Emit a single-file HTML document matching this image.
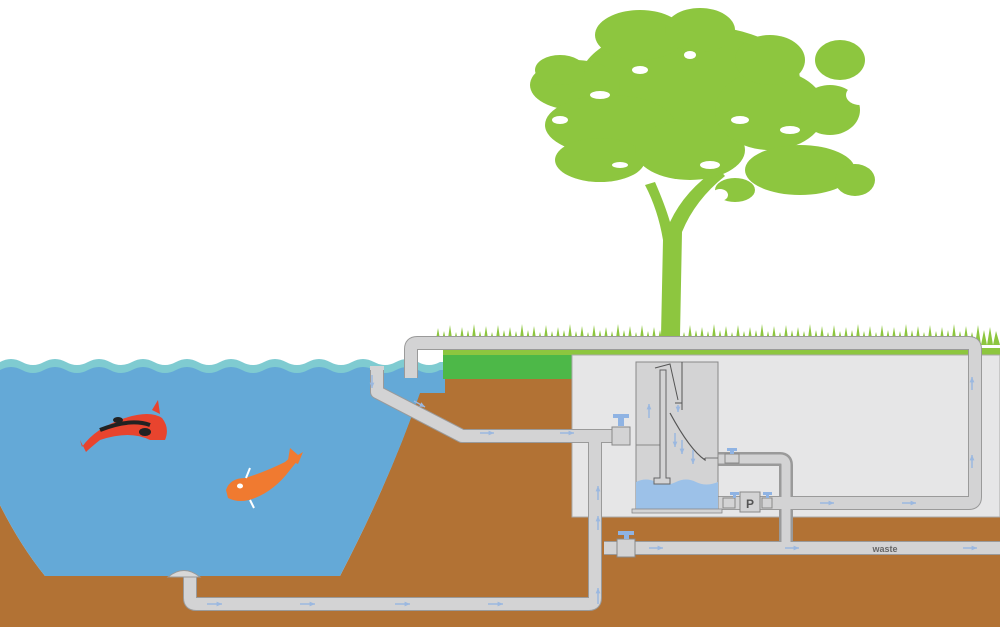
<!DOCTYPE html>
<html><head><meta charset="utf-8"><style>html,body{margin:0;padding:0;background:#fff}svg{display:block}</style></head>
<body>
<svg width="1000" height="627" viewBox="0 0 1000 627" xmlns="http://www.w3.org/2000/svg" font-family="Liberation Sans, sans-serif">
<defs>
<marker id="ar" viewBox="0 0 10 10" refX="9" refY="5" markerWidth="4" markerHeight="4" orient="auto"><path d="M0,1 L9,5 L0,9z" fill="#9bb8e0"/></marker>
</defs>
<rect width="1000" height="627" fill="#fff"/>
<!-- ground -->
<path d="M0,505 L0,627 L1000,627 L1000,355 L443,355 L443,392 L420,392 Q390,480 340,576 L45,576 Q20,545 0,505z" fill="#b27234"/>
<!-- water -->
<path d="M0,368 L445,368 L445,393 L420,393 Q390,480 340,576 L45,576 Q20,545 0,505z" fill="#64a9d7"/>
<path d="M0,362 q11,-6 22,0 t22,0 t22,0 t22,0 t22,0 t22,0 t22,0 t22,0 t22,0 t22,0 t22,0 t22,0 t22,0 t22,0 t22,0 t22,0 t22,0 t22,0 t22,0 t22,0 L445,362 L445,374 L0,374z" fill="#7fcbd1"/>
<path d="M0,370 q11,-6 22,0 t22,0 t22,0 t22,0 t22,0 t22,0 t22,0 t22,0 t22,0 t22,0 t22,0 t22,0 t22,0 t22,0 t22,0 t22,0 t22,0 t22,0 t22,0 t22,0 L445,370 L445,380 L0,380z" fill="#64a9d7"/>
<!-- green -->
<rect x="443" y="348" width="557" height="8" fill="#8dc63f"/>
<rect x="443" y="355" width="130" height="24" fill="#4db848"/>
<!-- room -->
<rect x="572" y="355" width="428" height="162" fill="#e6e6e7" stroke="#aaa" stroke-width="1"/>
<!-- grass -->
<g fill="#8dc63f">
<path d="M435,345 L438,328 L441,345 L444,331 L447,345 L450,325 L453,345 L456,332 L459,345 L462,327 L465,345 L468,330 L471,345 L474,324 L477,345 L480,331 L483,345 L486,326 L489,345 L492,332 L495,345 L498,325 L501,345 L504,330 L507,345 L510,327 L513,345 L516,331 L519,345 L522,324 L525,345 L528,330 L531,345 L534,326 L537,345 L540,332 L543,345 L546,325 L549,345 L552,331 L555,345 L558,327 L561,345 L564,330 L567,345 L570,324 L573,345 L576,331 L579,345 L582,326 L585,345 L588,332 L591,345 L594,325 L597,345 L600,330 L603,345 L606,327 L609,345 L612,331 L615,345 L618,324 L621,345 L624,330 L627,345 L630,326 L633,345 L636,332 L639,345 L642,325 L645,345 L648,331 L651,345 L654,327 L657,345 L660,330 L663,345 L666,324 L669,345 L672,331 L675,345 L678,326 L681,345 L684,332 L687,345 L690,325 L693,345 L696,330 L699,345 L702,327 L705,345 L708,331 L711,345 L714,324 L717,345 L720,330 L723,345 L726,326 L729,345 L732,332 L735,345 L738,325 L741,345 L744,331 L747,345 L750,327 L753,345 L756,330 L759,345 L762,324 L765,345 L768,331 L771,345 L774,326 L777,345 L780,332 L783,345 L786,325 L789,345 L792,330 L795,345 L798,327 L801,345 L804,331 L807,345 L810,324 L813,345 L816,330 L819,345 L822,326 L825,345 L828,332 L831,345 L834,325 L837,345 L840,331 L843,345 L846,327 L849,345 L852,330 L855,345 L858,324 L861,345 L864,331 L867,345 L870,326 L873,345 L876,332 L879,345 L882,325 L885,345 L888,330 L891,345 L894,327 L897,345 L900,331 L903,345 L906,324 L909,345 L912,330 L915,345 L918,326 L921,345 L924,332 L927,345 L930,325 L933,345 L936,331 L939,345 L942,327 L945,345 L948,330 L951,345 L954,324 L957,345 L960,331 L963,345 L966,326 L969,345 L972,332 L975,345 L978,325 L981,345 L984,330 L987,345 L990,327 L993,345 L996,331 L1000,345z"/>
</g>
<!-- tree -->
<g fill="#8dc63f">
<path d="M661,336 L663,240 Q658,210 645,185 L655,182 Q665,205 670,222 Q685,190 718,168 L725,176 Q695,200 682,232 L680,336z"/>
<ellipse cx="690" cy="80" rx="110" ry="55"/>
<ellipse cx="640" cy="35" rx="45" ry="25"/>
<ellipse cx="700" cy="30" rx="35" ry="22"/>
<ellipse cx="575" cy="85" rx="45" ry="25"/>
<ellipse cx="560" cy="70" rx="25" ry="15"/>
<ellipse cx="610" cy="125" rx="65" ry="30"/>
<ellipse cx="600" cy="160" rx="45" ry="22"/>
<ellipse cx="690" cy="150" rx="55" ry="30"/>
<ellipse cx="770" cy="110" rx="55" ry="40"/>
<ellipse cx="800" cy="170" rx="55" ry="25"/>
<ellipse cx="840" cy="60" rx="25" ry="20"/>
<ellipse cx="830" cy="110" rx="30" ry="25"/>
<ellipse cx="855" cy="180" rx="20" ry="16"/>
<ellipse cx="735" cy="190" rx="20" ry="12"/>
<ellipse cx="770" cy="60" rx="35" ry="25"/>
</g>
<g fill="#fff">
<ellipse cx="640" cy="70" rx="8" ry="4"/><ellipse cx="600" cy="95" rx="10" ry="4"/>
<ellipse cx="740" cy="120" rx="9" ry="4"/><ellipse cx="620" cy="165" rx="8" ry="3"/>
<ellipse cx="790" cy="130" rx="10" ry="4"/><ellipse cx="690" cy="55" rx="6" ry="4"/>
<ellipse cx="710" cy="165" rx="10" ry="4"/><ellipse cx="560" cy="120" rx="8" ry="4"/>
<ellipse cx="860" cy="95" rx="14" ry="10"/><ellipse cx="720" cy="195" rx="8" ry="6"/>
</g>
<!-- pipes -->
<g fill="none" stroke-linejoin="round" stroke-linecap="butt">
<g stroke="#9a9a9a" stroke-width="14">
<path d="M411,378 L411,349 Q411,343 417,343 L969,343 Q975,343 975,349 L975,497 Q975,503 969,503 L718,503"/>
<path d="M377,367 L377,392 L462,436 L625,436"/>
<path d="M595,440 L595,598 Q595,604 589,604 L196,604 Q190,604 190,598 L190,576"/>
<path d="M604,548 L1000,548"/>
<path d="M718,459 L780,459 Q786,459 786,465 L786,548"/>
</g>
<g stroke="#d3d3d4" stroke-width="12">
<path d="M411,378 L411,349 Q411,343 417,343 L969,343 Q975,343 975,349 L975,497 Q975,503 969,503 L718,503"/>
<path d="M377,367 L377,392 L462,436 L625,436"/>
<path d="M595,440 L595,598 Q595,604 589,604 L196,604 Q190,604 190,598 L190,576"/>
<path d="M604,548 L1000,548"/>
</g>
<path d="M718,459 L780,459 Q786,459 786,465 L786,548" stroke="#d3d3d4" stroke-width="9"/>
<path d="M595,430 L595,445" stroke="#d3d3d4" stroke-width="12"/>
</g>
<rect x="370" y="366" width="14" height="4" fill="#d3d3d4"/>
<!-- drain -->
<path d="M168,577 Q184,564 200,577z" fill="#d8d8d8" stroke="#999" stroke-width="1"/>
<!-- valves -->
<g fill="#d3d3d4" stroke="#888" stroke-width="1">
<rect x="612" y="427" width="18" height="18"/>
<rect x="617" y="539" width="18" height="18"/>
<rect x="725" y="454" width="14" height="9"/>
<rect x="740" y="492" width="20" height="20"/>
<rect x="723" y="498" width="12" height="10"/><rect x="762" y="498" width="10" height="10"/>
</g>
<g fill="#8fb3e3">
<rect x="613" y="414" width="16" height="4"/><rect x="618" y="417" width="6" height="9"/>
<rect x="618" y="531" width="16" height="4"/><rect x="624" y="534" width="5" height="5"/>
<rect x="727" y="448" width="10" height="3"/><rect x="730" y="450" width="4" height="4"/>
<rect x="730" y="492" width="9" height="3"/><rect x="733" y="494" width="3" height="4"/>
<rect x="763" y="492" width="9" height="3"/><rect x="766" y="494" width="3" height="4"/>
</g>
<text x="750" y="508" font-size="12" font-weight="bold" fill="#555" text-anchor="middle">P</text>
<!-- filter -->
<rect x="636" y="362" width="82" height="148" fill="#d3d3d4" stroke="#888" stroke-width="1"/>
<path d="M636,482 q10,-5 20,0 t20,0 t20,0 t22,0 L718,510 L636,510z" fill="#9cc1e8"/>
<rect x="632" y="509" width="90" height="4" fill="#d3d3d4" stroke="#888" stroke-width="0.8"/>
<path d="M636,445 L660,445" stroke="#888" fill="none"/>
<path d="M660,370 L660,478 L654,478 L654,484 L670,484 L670,478 L666,478 L666,370z" fill="#d3d3d4" stroke="#666" stroke-width="1"/>
<path d="M655,368 L670,364 L678,400 M682,362 L682,410 M675,403 L682,403" stroke="#555" stroke-width="1" fill="none"/>
<path d="M670,413 Q690,450 705,460 L705,458" stroke="#555" stroke-width="1.2" fill="none"/>
<path d="M705,458 L718,458" stroke="#777" fill="none"/>
<!-- flow arrows -->
<g stroke="#9bb8e0" stroke-width="1.5" marker-end="url(#ar)" fill="none">
<path d="M372,375 L372,388"/><path d="M414,401 L425,407"/>
<path d="M480,433 L494,433"/><path d="M560,433 L574,433"/>
<path d="M207,604 L222,604"/><path d="M300,604 L315,604"/><path d="M395,604 L410,604"/><path d="M488,604 L503,604"/>
<path d="M598,530 L598,516"/><path d="M598,604 L598,588"/><path d="M598,500 L598,486"/>
<path d="M649,418 L649,404"/><path d="M678,405 L678,412"/>
<path d="M675,433 L675,447"/><path d="M682,440 L682,454"/><path d="M693,450 L693,464"/>
<path d="M649,548 L663,548"/><path d="M785,548 L799,548"/><path d="M963,548 L977,548"/>
<path d="M820,503 L834,503"/><path d="M902,503 L916,503"/>
<path d="M972,468 L972,455"/><path d="M972,390 L972,377"/>
</g>
<text x="885" y="552" font-size="9" font-weight="bold" fill="#666" text-anchor="middle">waste</text>
<!-- fish 1 -->
<g>
<path d="M82,447 Q95,428 125,418 Q150,410 162,418 Q170,428 165,440 L150,440 Q130,430 100,440 Q90,448 86,452 L80,440z" fill="#e8442e"/>
<path d="M152,410 L158,400 L160,414z" fill="#e8442e"/>
<path d="M100,430 Q130,418 150,425" stroke="#222" stroke-width="4" fill="none"/>
<ellipse cx="145" cy="432" rx="6" ry="4" fill="#222"/><ellipse cx="118" cy="420" rx="5" ry="3" fill="#222"/>
</g>
<!-- fish 2 -->
<g>
<path d="M226,490 Q230,478 245,478 Q265,472 285,462 L292,456 L298,460 L290,470 Q275,490 255,498 Q240,504 228,498z" fill="#f07a30"/>
<path d="M288,460 L290,448 L298,455 L303,452 L298,464z" fill="#f07a30"/>
<ellipse cx="240" cy="486" rx="3" ry="2.5" fill="#fff"/>
<path d="M246,478 L250,468 M250,500 L254,508" stroke="#fff" stroke-width="2"/>
</g>
</svg>
</body></html>
